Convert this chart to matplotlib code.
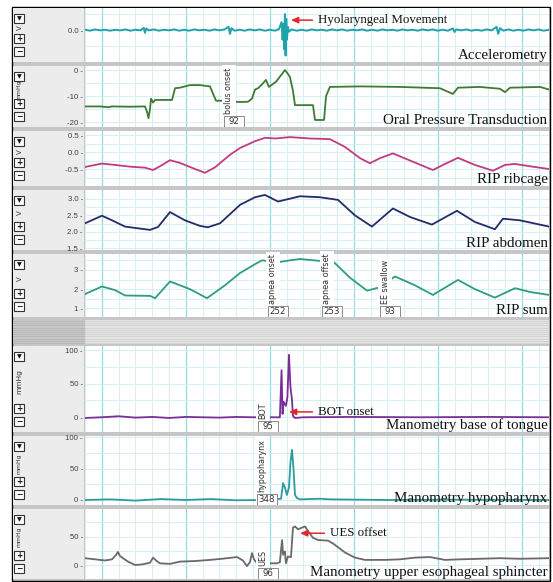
import numpy as np
import matplotlib
matplotlib.use("Agg")
import matplotlib.pyplot as plt
from matplotlib.patches import Rectangle
from matplotlib.transforms import blended_transform_factory

W, H = 553, 582

# ---------------- data (time in s) ----------------
accel_t = [0.0, 0.3, 0.6, 0.9, 1.2, 1.5, 1.8, 2.1, 2.4, 2.7,
           3.0, 3.3, 3.5, 3.57, 3.65, 3.8, 4.1, 4.4, 4.7, 5.0,
           5.3, 5.6, 5.9, 6.2, 6.5, 6.8, 7.1, 7.4, 7.7, 8.0,
           8.3, 8.55, 8.63, 8.72, 8.9, 9.2, 9.5, 9.8, 10.1, 10.4,
           10.7, 11.0, 11.3, 11.55, 11.7, 11.76, 11.82, 11.86, 11.9, 11.94,
           11.98, 12.02, 12.08, 12.15, 12.3, 12.6, 12.9, 13.2, 13.5, 13.8,
           14.1, 14.4, 14.7, 15.0, 15.3, 15.6, 15.9, 16.2, 16.5, 16.8,
           17.1, 17.4, 17.7, 18.0, 18.3, 18.6, 18.9, 19.2, 19.5, 19.8,
           20.1, 20.4, 20.7, 21.0, 21.3, 21.6, 21.9, 22.0, 22.1, 22.4,
           22.7, 23.0, 23.3, 23.6, 23.9, 24.2, 24.5, 24.6, 24.7, 24.9,
           25.2, 25.5, 25.8, 26.1, 26.4, 26.7, 27.0, 27.3, 27.62]
accel_v = [0.01, -0.02, 0.02, -0.01, 0.01, -0.02, 0.01, -0.01, 0.02, -0.02,
           0.01, -0.01, 0.07, -0.09, 0.05, -0.01, 0.02, -0.02, 0.01, -0.01,
           0.02, -0.02, 0.01, -0.02, 0.02, -0.01, 0.01, -0.02, 0.02, -0.01,
           0.02, 0.1, -0.12, 0.06, -0.02, 0.01, -0.02, 0.02, -0.01, 0.02,
           -0.02, 0.01, -0.02, 0.03, 0.25, -0.3, 0.2, -0.6, 0.5, -0.8,
           0.35, -0.3, 0.1, -0.05, 0.02, -0.02, 0.01, -0.02, 0.02, -0.01,
           0.01, -0.02, 0.02, -0.01, 0.02, -0.02, 0.01, -0.01, 0.02, -0.02,
           0.01, -0.02, 0.02, -0.01, 0.01, -0.02, 0.02, -0.01, 0.01, -0.02,
           0.02, -0.01, 0.02, -0.02, 0.01, -0.02, 0.05, -0.06, 0.02, -0.01,
           0.02, -0.02, 0.01, -0.02, 0.02, -0.01, 0.1, -0.12, 0.06, -0.02,
           0.02, -0.02, 0.01, -0.02, 0.02, -0.01, 0.02, -0.02, 0.01]

oral_t = [0.0, 0.9, 1.4, 1.6, 2.7, 3.57, 3.69, 3.78, 3.87, 3.93,
          4.05, 4.17, 5.18, 5.36, 5.65, 6.25, 6.85, 7.44, 7.68, 7.8,
          8.1, 9.17, 9.7, 9.94, 10.12, 10.3, 10.54, 10.77, 10.95, 11.37,
          11.73, 11.9, 12.08, 12.2, 12.38, 12.5, 13.57, 13.69, 14.23, 14.35,
          14.58, 16.37, 18.75, 21.13, 21.9, 22.2, 23.5, 24.7, 25.0, 25.3,
          27.08, 27.62]
oral_v = [-14.0, -14.0, -14.3, -14.0, -14.1, -14.0, -16.0, -18.5, -15.0, -11.0,
          -12.5, -11.5, -11.5, -7.0, -6.8, -5.8, -5.8, -6.3, -10.0, -11.8,
          -11.8, -12.3, -12.2, -11.0, -7.5, -7.0, -5.5, -3.8, -6.5, -4.5,
          -1.5, 0.0, -1.5, -2.7, -8.0, -13.5, -13.5, -19.2, -19.2, -10.0,
          -6.5, -6.3, -6.5, -7.0, -9.2, -6.8, -6.5, -7.2, -8.5, -6.8,
          -6.5, -7.5]

rib_t = [0.0, 0.6, 1.01, 1.79, 2.68, 3.57, 4.05, 4.46, 5.06, 5.65,
         6.55, 7.14, 7.74, 8.63, 9.23, 10.12, 10.71, 11.31, 12.2, 13.39,
         14.58, 15.48, 16.37, 16.96, 17.56, 18.33, 19.35, 20.71, 21.43, 22.2,
         23.21, 24.29, 25.0, 25.6, 26.5, 27.62]
rib_v = [-0.44, -0.38, -0.34, -0.38, -0.43, -0.46, -0.53, -0.42, -0.24, -0.32,
         -0.5, -0.61, -0.45, -0.08, 0.12, 0.32, 0.42, 0.4, 0.44, 0.4,
         0.38, 0.15, -0.18, -0.33, -0.18, -0.04, -0.25, -0.53, -0.35, -0.17,
         -0.38, -0.55, -0.38, -0.35, -0.42, -0.5]

abd_t = [0.0, 1.01, 1.61, 2.38, 3.27, 3.87, 4.35, 5.06, 5.95, 6.85,
         7.32, 8.04, 9.23, 10.12, 10.71, 11.49, 11.73, 12.8, 13.99, 15.06,
         16.07, 17.08, 18.33, 19.35, 20.65, 22.14, 23.21, 24.4, 24.88, 25.89,
         27.62]
abd_v = [2.26, 2.49, 2.35, 2.16, 2.1, 2.06, 2.15, 2.6, 2.35, 2.18,
         2.14, 2.26, 2.82, 3.05, 3.12, 2.92, 2.95, 3.08, 3.05, 2.97,
         2.5, 2.16, 2.71, 2.45, 2.22, 2.64, 2.3, 2.08, 2.4, 2.35,
         2.16]

sum_t = [0.0, 1.01, 1.79, 2.38, 3.87, 4.17, 5.06, 6.25, 7.26, 8.33,
         9.23, 10.12, 10.54, 11.49, 12.2, 12.8, 13.99, 14.76, 15.77, 16.79,
         17.56, 18.45, 19.64, 20.71, 22.2, 23.21, 24.4, 25.6, 26.5, 27.62]
sum_v = [1.74, 2.14, 1.95, 1.67, 1.65, 1.53, 2.4, 2.0, 1.53, 2.2,
         2.84, 3.3, 3.5, 3.4, 3.5, 3.57, 3.47, 3.45, 2.6, 1.92,
         2.1, 2.66, 2.2, 1.7, 2.48, 2.0, 1.56, 2.05, 1.85, 1.7]

bot_t = [0.0, 1.0, 2.0, 3.0, 4.0, 5.0, 6.0, 7.0, 8.0, 9.0,
         10.0, 11.6, 11.7, 11.76, 11.82, 11.96, 12.05, 12.14, 12.23, 12.32,
         12.38, 12.5, 13.0, 16.0, 20.0, 24.0, 27.62]
bot_v = [-1.0, 0.0, 1.5, -0.5, 0.5, -1.0, 0.5, 0.0, -0.5, 0.5,
         0.0, 0.0, 70.0, 5.0, 23.0, 17.0, 30.0, 93.0, 45.0, 26.0,
         2.0, -1.0, 0.0, 0.5, 0.0, 0.5, 0.0]

hypo_t = [0.0, 1.5, 3.0, 4.5, 6.0, 7.5, 9.0, 10.5, 11.67, 11.79,
          11.9, 12.02, 12.14, 12.23, 12.32, 12.41, 12.5, 12.62, 12.8, 14.0,
          14.6, 18.0, 22.0, 27.62]
hypo_v = [0.0, 1.0, -1.0, 1.5, 0.0, 1.5, -0.5, 0.0, 2.0, 27.0,
          20.0, 8.0, 20.0, 60.0, 80.0, 50.0, 8.0, 3.0, 1.0, 2.0,
          1.0, 0.0, 0.5, 0.0]

ues_t = [0.0, 0.6, 1.19, 1.61, 1.85, 1.96, 2.08, 2.26, 2.56, 2.98,
         3.39, 3.87, 4.05, 4.23, 4.46, 5.06, 5.65, 6.55, 7.44, 8.15,
         9.05, 9.4, 9.64, 9.82, 9.94, 10.06, 10.24, 11.43, 11.6, 11.73,
         11.79, 11.9, 11.96, 12.08, 12.26, 12.38, 12.5, 12.68, 12.92, 13.1,
         13.27, 13.57, 13.87, 14.46, 14.76, 15.48, 16.07, 16.67, 17.86, 18.75,
         19.64, 20.54, 21.43, 22.32, 23.51, 24.7, 25.89, 27.62]
ues_v = [12, 10, 8, 10, 18, 23, 16, 12, 6, 0,
         1, 4, 13, 8, 3, 2, 6, 7, 9, 11,
         14, 8, -2, 5, 21, 10, 3, 3, 5, 44,
         18, 24, 3, 15, 14, 66, 68, 63, 66, 68,
         60, 48, 44, 43, 38, 22, 13, 9, 9, 10,
         13, 14, 9, 10, 11, 12, 11, 12]

titles = ["Accelerometry", "Oral Pressure Transduction", "RIP ribcage", "RIP abdomen",
          "RIP sum", "Manometry base of tongue", "Manometry hypopharynx",
          "Manometry upper esophageal sphincter"]
units = ["V", "mmHg", "V", "V", "V", "mmHg", "mmHg", "mmHg"]
ytick_vals = [[0.0], [0, -10, -20], [0.5, 0.0, -0.5], [3.0, 2.5, 2.0, 1.5],
              [3, 2, 1], [100, 50, 0], [100, 50, 0], [50, 0]]
ytick_labels = [["0.0"], ["0", "-10", "-20"], ["0.5", "0.0", "-0.5"],
                ["3.0", "2.5", "2.0", "1.5"], ["3", "2", "1"],
                ["100", "50", "0"], ["100", "50", "0"], ["50", "0"]]

# events: (panel, time, label, number)
ev_panel = [1, 4, 4, 4, 5, 6, 7]
ev_t = [8.57, 11.19, 14.40, 17.86, 10.60, 10.54, 10.60]
ev_label = ["bolus onset", "apnea onset", "apnea offset", "EE swallow", "BOT", "hypopharynx", "UES"]
ev_num = ["92", "252", "253", "93", "95", "348", "96"]

# arrow annotations: (panel, text, text time, y value, arrow head time)
an_panel = [0, 5, 7]
an_text = ["Hyolaryngeal Movement", "BOT onset", "UES offset"]
an_t = [13.87, 13.87, 14.58]
an_y = [0.31, 8.0, 56.0]
an_head = [12.26, 12.14, 12.8]

# ---------------- layout / style ----------------
series = [(accel_t, accel_v), (oral_t, oral_v), (rib_t, rib_v), (abd_t, abd_v),
          (sum_t, sum_v), (bot_t, bot_v), (hypo_t, hypo_v), (ues_t, ues_v)]
colors = ["#1fa3aa", "#3f7a34", "#c43a82", "#262a66", "#2f9c80", "#7a2c98", "#2a9c9e", "#6a6a6a"]
panels_px = [(8, 62), (66, 127), (131, 186), (190, 250), (254, 317),
             (346, 432), (436, 505), (509, 579)]
ylims = [(-1.0, 0.69), (-21.9, 1.54), (-1.0, 0.62), (1.45, 3.27), (0.55, 3.83),
         (-21.9, 106), (-8, 102), (-24.7, 98.8)]
yminor = [[-0.5, 0.5], [-5, -15], [0.25, -0.25, -0.75], [2.75, 2.25, 1.75],
          [3.5, 2.5, 1.5], [75, 25], [75, 25], [75, 25]]
unit_size = [5.0, 4.4, 5.0, 5.0, 5.0, 5.4, 4.4, 4.4]
XL, XR = 85, 549
TMAX = 27.62

fig = plt.figure(figsize=(W / 100, H / 100), dpi=100)
fig.patch.set_facecolor("white")

bg = fig.add_axes([0, 0, 1, 1], zorder=0)
bg.set_xlim(0, W)
bg.set_ylim(H, 0)
bg.axis("off")
bg.add_patch(Rectangle((12, 7), 538, 574, fc="#c6c6c6", ec="black", lw=1.0))
# striped band
bg.add_patch(Rectangle((13, 320), 72, 24, fc="#c8c8c8", ec="none"))
bg.add_patch(Rectangle((85, 320), 464, 24, fc="#e4e4e4", ec="none"))
for yy in np.arange(321, 344, 2.2):
    bg.plot([13, 85], [yy, yy], color="#b0b0b0", lw=0.5)
    bg.plot([85, 549], [yy, yy], color="#cdcdcd", lw=0.5)

for i, (top, bot) in enumerate(panels_px):
    bg.add_patch(Rectangle((13, top), 71, bot - top, fc="#ececec", ec="none"))
    # buttons
    for cy, sym in [(top + 10, "\u25BC"), (bot - 24, "+"), (bot - 11, "\u2212")]:
        bg.add_patch(Rectangle((14, cy - 4.5), 10, 9, fc="#fafafa", ec="#333333", lw=0.8))
        bg.text(19, cy + 0.3, sym, ha="center", va="center", fontsize=5.5 if sym != "\u25BC" else 4.5,
                fontweight="bold", color="#111111")
    uy = ((top + 15) + (bot - 29)) / 2
    bg.text(19.5, uy, units[i], rotation=90, ha="center", va="center",
            fontsize=unit_size[i], color="#333333", family="DejaVu Sans")

axes = []
for i, (top, bot) in enumerate(panels_px):
    ax = fig.add_axes([XL / W, 1 - bot / H, (XR - XL) / W, (bot - top) / H], zorder=1)
    ax.set_facecolor("white")
    for s in ax.spines.values():
        s.set_visible(False)
    ax.set_xlim(0, TMAX)
    ax.set_ylim(*ylims[i])
    ax.set_xticks([1, 6, 11, 16, 21, 26])
    ax.set_xticks([k for k in range(0, 28) if k not in (1, 6, 11, 16, 21, 26)], minor=True)
    ax.set_yticks(ytick_vals[i], labels=[l + " -" for l in ytick_labels[i]])
    ax.set_yticks(yminor[i], minor=True)
    ax.tick_params(axis="x", which="both", length=0, labelbottom=False)
    ax.tick_params(axis="y", which="both", length=0, pad=1.5, labelsize=5.6,
                   labelcolor="#404040")
    for lab in ax.get_yticklabels():
        lab.set_family("Liberation Sans")
    ax.grid(which="major", axis="x", color="#8fdde3", lw=0.9)
    ax.grid(which="minor", axis="x", color="#cdeff1", lw=0.6)
    ax.grid(which="both", axis="y", color="#cdeff1", lw=0.6)
    ax.set_axisbelow(True)
    tt, vv = series[i]
    ax.plot(tt, vv, color=colors[i], lw=1.3 if i else 1.4, zorder=2)
    ax.annotate(titles[i], xy=(1, 0), xycoords="axes fraction", xytext=(-1, 2.2),
                textcoords="offset points", ha="right", va="baseline",
                fontsize=10.8, family="Liberation Serif", color="#111111", zorder=6)
    axes.append(ax)

# events
for p, t, lab, num in zip(ev_panel, ev_t, ev_label, ev_num):
    ax = axes[p]
    top, bot = panels_px[p]
    h = bot - top
    tr = blended_transform_factory(ax.transData, ax.transAxes)
    px = (TMAX) / (XR - XL)
    ax.add_patch(Rectangle((t - 6 * px, 0), 12 * px, 14 / h, transform=tr,
                           fc="white", ec="none", zorder=3))
    ax.text(t, 13 / h, lab, rotation=90, ha="center", va="bottom", transform=tr,
            fontsize=5.8, color="#303030", family="DejaVu Sans", zorder=4,
            bbox=dict(boxstyle="square,pad=0.3", fc="white", ec="none"))
    ax.add_patch(Rectangle((t - 5 * px, 0.5 / h), 20 * px, 10.5 / h, transform=tr,
                           fc="white", ec="#8a8a8a", lw=0.7, zorder=4))
    ax.text(t + 5 * px, 5.8 / h, num, ha="center", va="center", transform=tr,
            fontsize=6.2, color="#303030", family="DejaVu Sans", zorder=5)

# red arrow annotations
for p, txt, tx, yv, hx in zip(an_panel, an_text, an_t, an_y, an_head):
    ax = axes[p]
    ax.annotate(txt, xy=(hx, yv), xytext=(tx, yv), ha="left", va="center",
                fontsize=9.3, family="Liberation Serif", color="#111111", zorder=7,
                arrowprops=dict(arrowstyle="-|>,head_length=0.45,head_width=0.2",
                                color="#e3262a", lw=1.1, shrinkA=2, shrinkB=0))

fig.savefig("out.png", dpi=100, facecolor="white")
